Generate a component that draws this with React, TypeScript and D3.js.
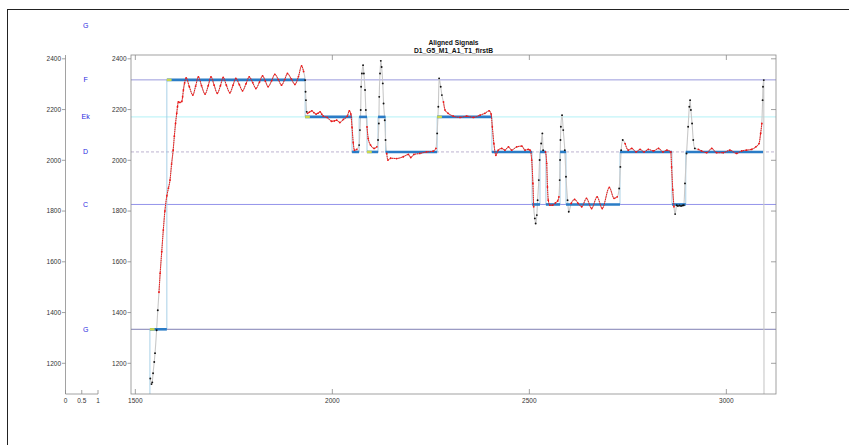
import React, { useEffect, useRef } from "react";
import * as d3 from "d3";

// ---- signal (time, pitch) ----
const sigT = [
  1538, 1541, 1543, 1545, 1548, 1550, 1554, 1557, 1560, 1563, 1567, 1571, 1575, 1580, 1584, 1588, 1592, 1596, 1599, 1602,
  1605, 1607, 1609, 1613, 1618, 1620, 1622, 1625, 1629, 1637, 1646, 1653, 1660, 1668, 1677, 1685, 1692, 1700, 1708, 1716,
  1723, 1731, 1740, 1748, 1755, 1764, 1772, 1781, 1789, 1798, 1806, 1815, 1823, 1830, 1837, 1846, 1854, 1863, 1871, 1879,
  1886, 1896, 1905, 1914, 1922, 1927, 1931, 1932, 1933, 1935, 1937, 1942, 1948, 1953, 1959, 1964, 1969, 1973, 1977, 1987,
  1998, 2005, 2011, 2019, 2028, 2038, 2043, 2047, 2050, 2053, 2056, 2062, 2068, 2070, 2072, 2073, 2075, 2078, 2080, 2083,
  2085, 2088, 2091, 2097, 2106, 2113, 2116, 2118, 2119, 2121, 2123, 2125, 2128, 2130, 2133, 2135, 2138, 2141, 2148, 2163,
  2180, 2193, 2199, 2207, 2222, 2239, 2256, 2263, 2266, 2269, 2271, 2275, 2278, 2282, 2286, 2294, 2307, 2324, 2341, 2358,
  2375, 2387, 2398, 2403, 2406, 2410, 2415, 2421, 2430, 2438, 2447, 2455, 2468, 2481, 2489, 2497, 2502, 2506, 2509, 2511,
  2514, 2516, 2519, 2521, 2524, 2526, 2530, 2533, 2535, 2541, 2544, 2546, 2548, 2552, 2559, 2566, 2572, 2575, 2577, 2578,
  2579, 2580, 2583, 2586, 2590, 2593, 2597, 2600, 2606, 2615, 2624, 2633, 2645, 2658, 2672, 2685, 2703, 2715, 2723, 2728,
  2731, 2733, 2737, 2743, 2751, 2760, 2771, 2781, 2791, 2802, 2815, 2828, 2839, 2849, 2859, 2861, 2864, 2867, 2870, 2874,
  2877, 2881, 2885, 2889, 2892, 2895, 2899, 2903, 2906, 2908, 2910, 2913, 2916, 2920, 2929, 2937, 2950, 2963, 2975, 2992,
  3009, 3026, 3039, 3051, 3064, 3075, 3083, 3087, 3090, 3092, 3093, 3095, 3096,
];
const sigV = [
  1140, 1118, 1125, 1161, 1205, 1240, 1330, 1409, 1480, 1555, 1640, 1725, 1800, 1860, 1890, 1922, 1985, 2040, 2095, 2145,
  2185, 2211, 2230, 2228, 2232, 2250, 2277, 2305, 2325, 2290, 2257, 2292, 2329, 2294, 2261, 2294, 2329, 2296, 2264, 2294,
  2327, 2296, 2266, 2296, 2323, 2298, 2274, 2302, 2329, 2306, 2283, 2308, 2333, 2312, 2290, 2314, 2339, 2318, 2296, 2318,
  2342, 2320, 2299, 2330, 2372, 2350, 2316, 2270, 2237, 2191, 2185, 2190, 2195, 2188, 2182, 2186, 2191, 2182, 2174, 2169,
  2154, 2155, 2158, 2149, 2161, 2174, 2195, 2182, 2130, 2070, 2040, 2043, 2060, 2119, 2198, 2290, 2342, 2375, 2342, 2277,
  2198, 2132, 2086, 2060, 2047, 2053, 2080, 2145, 2250, 2342, 2392, 2368, 2303, 2224, 2158, 2080, 2027, 2001, 2008, 2007,
  2014, 2023, 2011, 2023, 2027, 2033, 2036, 2047, 2106, 2211, 2323, 2290, 2257, 2230, 2198, 2185, 2174, 2169, 2174, 2169,
  2178, 2185, 2195, 2182, 2132, 2066, 2020, 2040, 2047, 2040, 2053, 2040, 2053, 2056, 2040, 2043, 2040, 2001, 1909, 1817,
  1771, 1751, 1784, 1843, 1922, 2001, 2066, 2106, 2040, 2033, 1988, 1895, 1843, 1823, 1823, 1832, 1840, 1856, 1922, 2001,
  2080, 2132, 2178, 2119, 2040, 1935, 1843, 1797, 1830, 1846, 1830, 1817, 1850, 1810, 1856, 1810, 1893, 1850, 1856, 1889,
  1974, 2040, 2080, 2066, 2040, 2047, 2033, 2043, 2033, 2043, 2037, 2047, 2033, 2040, 2033, 1974, 1883, 1817, 1788, 1823,
  1820, 1822, 1820, 1822, 1823, 1909, 2027, 2132, 2211, 2237, 2198, 2145, 2080, 2047, 2043, 2037, 2030, 2047, 2030, 2030,
  2040, 2027, 2037, 2040, 2043, 2053, 2066, 2106, 2145, 2237, 2290, 2316, 0,
];
// time ranges where the trace is drawn black (transitions)
const blackStart = [1536, 1930, 2067, 2115, 2265, 2513, 2576, 2727, 2869, 3091];
const blackEnd = [1557, 1936, 2087, 2135, 2280, 2536, 2601, 2738, 2921, 3100];

// ---- target notes ----
const noteStart = [1537, 1580, 1931, 2050, 2068, 2088, 2116, 2135, 2266, 2405, 2507, 2527, 2542, 2578, 2593, 2730, 2862, 2897];
const noteEnd = [1580, 1931, 2050, 2068, 2088, 2116, 2135, 2266, 2405, 2507, 2527, 2542, 2578, 2593, 2730, 2862, 2897, 3093];
const noteVal = [1334, 2317, 2171, 2033, 2171, 2033, 2171, 2033, 2171, 2033, 1826, 2033, 1826, 2033, 1826, 2033, 1826, 2033];
const markerStart = [1537, 1580, 1931, 2088, 2266];

// ---- reference lines / labels ----
const refVals = [2317, 2171, 2033, 1826, 1334];
const refColors = ["#8e8ed8", "#aaeef4", "#b6aacc", "#8888e8", "#7070aa"];
const refDash = ["", "", "3,2", "", ""];
const noteNames = ["G", "F", "Ek", "D", "C", "G"];
const noteNameVals = [2533, 2317, 2171, 2033, 1826, 1334];

const xTicks = [1500, 2000, 2500, 3000];
const yTicks = [1200, 1400, 1600, 1800, 2000, 2200, 2400];
const leftXTicks = [0, 0.5, 1];

const W = 849;
const H = 445;
const FONT = "'Liberation Sans', Arial, Helvetica, sans-serif";

export default function App() {
  const ref = useRef<SVGSVGElement | null>(null);

  useEffect(() => {
    document.body.style.margin = "0";
    const svg = d3.select(ref.current);
    svg.selectAll("*").remove();

    const top = 55, bottom = 394;
    const x = d3.scaleLinear().domain([1489, 3126]).range([131, 776]);
    const y = d3.scaleLinear().domain([1079, 2415]).range([bottom, top]);
    const xl = d3.scaleLinear().domain([0, 1]).range([65.5, 98]);
    const axisCol = "#8a8a8a";
    const textCol = "#333";

    // outer frame
    svg.append("rect").attr("x", 7.5).attr("y", 9.5).attr("width", 850).attr("height", 450)
      .attr("fill", "white").attr("stroke", "#222").attr("stroke-width", 1);

    // ---------- left note panel ----------
    const lp = svg.append("g");
    lp.append("line").attr("x1", xl(0)).attr("x2", xl(0)).attr("y1", top).attr("y2", bottom)
      .attr("stroke", axisCol).attr("stroke-width", 0.8);
    lp.append("line").attr("x1", xl(0)).attr("x2", xl(1)).attr("y1", bottom).attr("y2", bottom)
      .attr("stroke", axisCol).attr("stroke-width", 0.8);
    yTicks.forEach((t) => {
      lp.append("line").attr("x1", xl(0) - 3.5).attr("x2", xl(0)).attr("y1", y(t)).attr("y2", y(t))
        .attr("stroke", axisCol).attr("stroke-width", 0.8);
      lp.append("text").attr("x", xl(0) - 4.5).attr("y", y(t)).attr("dy", "0.35em")
        .attr("text-anchor", "end").attr("font-size", 6.5).attr("font-family", FONT)
        .attr("fill", textCol).text(String(t));
    });
    leftXTicks.forEach((t) => {
      lp.append("line").attr("x1", xl(t)).attr("x2", xl(t)).attr("y1", bottom).attr("y2", bottom - 4)
        .attr("stroke", axisCol).attr("stroke-width", 0.8);
      lp.append("text").attr("x", xl(t)).attr("y", bottom + 8.5).attr("text-anchor", "middle")
        .attr("font-size", 6.5).attr("font-family", FONT).attr("fill", textCol).text(String(t));
    });
    noteNames.forEach((n, i) => {
      lp.append("text").attr("x", xl(0.62)).attr("y", y(noteNameVals[i])).attr("dy", "0.35em")
        .attr("text-anchor", "middle").attr("font-size", 7).attr("font-family", FONT)
        .attr("fill", "#2a2ae0").text(n);
    });

    // ---------- main panel ----------
    const defs = svg.append("defs");
    defs.append("clipPath").attr("id", "plotclip").append("rect")
      .attr("x", 131).attr("y", top).attr("width", 776 - 131).attr("height", bottom - top);

    const g = svg.append("g").attr("clip-path", "url(#plotclip)");

    // reference lines
    refVals.forEach((v, i) => {
      g.append("line").attr("x1", 131).attr("x2", 776).attr("y1", y(v)).attr("y2", y(v))
        .attr("stroke", refColors[i]).attr("stroke-width", 0.9)
        .attr("stroke-dasharray", refDash[i] || null);
    });

    // target step line
    const stepPts: [number, number][] = [[noteStart[0], 0]];
    noteStart.forEach((s, i) => {
      stepPts.push([s, noteVal[i]]);
      stepPts.push([noteEnd[i], noteVal[i]]);
    });
    g.append("path")
      .attr("d", d3.line<[number, number]>().x((d) => x(d[0])).y((d) => y(d[1]))(stepPts) || "")
      .attr("fill", "none").attr("stroke", "#9fcbe4").attr("stroke-width", 0.9);

    // signal
    const pts = sigT.map((t, i) => ({ t, v: sigV[i] }));
    const isBlack = (t: number) => blackStart.some((s, i) => t >= s && t <= blackEnd[i]);
    const lineGen = d3.line<{ t: number; v: number }>().x((d) => x(d.t)).y((d) => y(d.v))
      .curve(d3.curveMonotoneX);

    g.append("path").attr("d", lineGen(pts) || "").attr("fill", "none")
      .attr("stroke", "#c8c8c8").attr("stroke-width", 1.1);

    // thick note segments
    noteStart.forEach((s, i) => {
      g.append("line").attr("x1", x(s)).attr("x2", x(noteEnd[i])).attr("y1", y(noteVal[i])).attr("y2", y(noteVal[i]))
        .attr("stroke", "#2a7cc6").attr("stroke-width", 2.6);
    });
    markerStart.forEach((s) => {
      g.append("line").attr("x1", x(s)).attr("x2", x(s + 12)).attr("y1", y(noteVal[noteStart.indexOf(s)]))
        .attr("y2", y(noteVal[noteStart.indexOf(s)]))
        .attr("stroke", "#cbd84c").attr("stroke-width", 2.4);
    });

    // red runs
    const visible = pts.filter((p) => p.v > 0);
    let run: { t: number; v: number }[] = [];
    const runs: { t: number; v: number }[][] = [];
    visible.forEach((p) => {
      if (!isBlack(p.t)) run.push(p);
      else {
        if (run.length) runs.push(run);
        run = [];
      }
    });
    if (run.length) runs.push(run);
    runs.forEach((r) => {
      if (r.length > 1)
        g.append("path").attr("d", lineGen(r) || "").attr("fill", "none")
          .attr("stroke", "#f01818").attr("stroke-width", 1.0)
          .attr("stroke-dasharray", "1.6,0.6");
    });

    // dots
    visible.forEach((p) => {
      const blk = isBlack(p.t);
      g.append("circle").attr("cx", x(p.t)).attr("cy", y(p.v)).attr("r", blk ? 0.95 : 0.9)
        .attr("fill", blk ? "#111" : "#f01818");
    });

    // main axes box
    const ax = svg.append("g");
    ax.append("rect").attr("x", 131).attr("y", top).attr("width", 776 - 131).attr("height", bottom - top)
      .attr("fill", "none").attr("stroke", axisCol).attr("stroke-width", 0.8);
    yTicks.forEach((t) => {
      ax.append("line").attr("x1", 131 - 3.5).attr("x2", 131).attr("y1", y(t)).attr("y2", y(t))
        .attr("stroke", axisCol).attr("stroke-width", 0.8);
      ax.append("line").attr("x1", 776 - 5).attr("x2", 776).attr("y1", y(t)).attr("y2", y(t))
        .attr("stroke", axisCol).attr("stroke-width", 0.8);
      ax.append("text").attr("x", 131 - 4.5).attr("y", y(t)).attr("dy", "0.35em")
        .attr("text-anchor", "end").attr("font-size", 6.5).attr("font-family", FONT)
        .attr("fill", textCol).text(String(t));
    });
    xTicks.forEach((t) => {
      ax.append("line").attr("x1", x(t)).attr("x2", x(t)).attr("y1", bottom).attr("y2", bottom - 5)
        .attr("stroke", axisCol).attr("stroke-width", 0.8);
      ax.append("line").attr("x1", x(t)).attr("x2", x(t)).attr("y1", top).attr("y2", top + 5)
        .attr("stroke", axisCol).attr("stroke-width", 0.8);
      ax.append("text").attr("x", x(t)).attr("y", bottom + 8.5).attr("text-anchor", "middle")
        .attr("font-size", 6.5).attr("font-family", FONT).attr("fill", textCol).text(String(t));
    });

    // title
    const cx = (131 + 776) / 2;
    svg.append("text").attr("x", cx).attr("y", 44.5).attr("text-anchor", "middle")
      .attr("font-size", 6.7).attr("font-weight", "bold").attr("font-family", FONT).attr("fill", "#111")
      .text("Aligned Signals");
    svg.append("text").attr("x", cx).attr("y", 53).attr("text-anchor", "middle")
      .attr("font-size", 6.7).attr("font-weight", "bold").attr("font-family", FONT).attr("fill", "#111")
      .text("D1_G5_M1_A1_T1_firstB");
  }, []);

  return (
    <svg ref={ref} width={W} height={H} style={{ position: "absolute", left: 0, top: 0, background: "white" }} />
  );
}
